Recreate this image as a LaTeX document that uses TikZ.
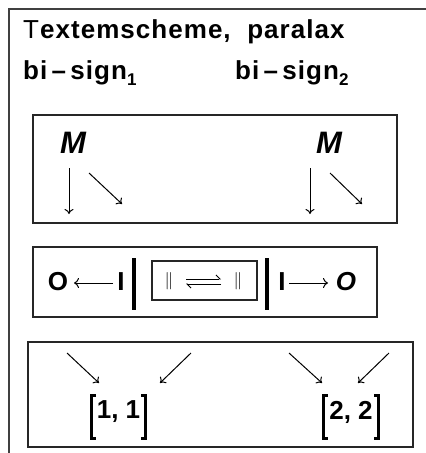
\documentclass[tikz,border=0pt]{standalone}
\usepackage{fontspec}
\setmainfont{Liberation Sans}
\usetikzlibrary{arrows.meta}
\begin{document}
\begin{tikzpicture}[x=1pt,y=-1pt,
  panel/.style={draw=black!85,line width=1.4pt,rectangle,inner sep=0pt},
  txt/.style={inner sep=0pt,anchor=base west},
  arr/.style={line width=1pt,-{To[length=5pt,width=9pt]}},
  longarr/.style={line width=1pt,-{To[length=5pt,width=10pt]}},
  thickbar/.style={line width=3.6pt},
  bracket/.style={line width=3pt},
  harp/.style={line width=0.9pt},
  bignum/.style={inner sep=0pt,font=\fontsize{26}{26}\selectfont\bfseries},
]
\useasboundingbox (0,0) rectangle (426,453);
\fill[white] (0,0) rectangle (426,453);

% outer frame, open to the right and bottom
\draw[draw=black!75,line width=2pt] (8.5,455) -- (8.5,9) -- (428,9);

% heading lines
\node[txt] (title) at (23,38) {\addfontfeature{LetterSpace=4}\fontsize{26}{26}\selectfont T\textbf{extemscheme,\ \ paralax}};
\node[txt] (bs1) at (23,79) {\addfontfeature{LetterSpace=4}\fontsize{26}{26}\selectfont\bfseries bi\,--\,sign\raisebox{-6pt}{\fontsize{17}{17}\selectfont 1}};
\node[txt] (bs2) at (235,79) {\addfontfeature{LetterSpace=4}\fontsize{26}{26}\selectfont\bfseries bi\,--\,sign\raisebox{-6pt}{\fontsize{17}{17}\selectfont 2}};

% upper panel: two M's with their arrows
\node[panel,minimum width=364pt,minimum height=108pt] (box1) at (215,169) {};
\node[txt] (m1) at (60,153) {\fontsize{31}{31}\selectfont\bfseries\itshape M};
\node[txt] (m2) at (316,153) {\fontsize{31}{31}\selectfont\bfseries\itshape M};
\coordinate (d1s) at (69,168);  \coordinate (d1e) at (69,214);
\coordinate (g1s) at (89,173);  \coordinate (g1e) at (122,204);
\coordinate (d2s) at (310,168); \coordinate (d2e) at (310,214);
\coordinate (g2s) at (330,173); \coordinate (g2e) at (362,204);
\draw[arr] (d1s) -- (d1e);
\draw[arr] (g1s) -- (g1e);
\draw[arr] (d2s) -- (d2e);
\draw[arr] (g2s) -- (g2e);

% middle panel
\node[panel,minimum width=344pt,minimum height=70pt] (box2) at (205,282) {};
\node[panel,minimum width=105pt,minimum height=39pt] (inner) at (204.5,280.5) {};
\node[inner sep=0pt] (oL) at (58,282) {\fontsize{26}{26}\selectfont\bfseries O};
\node[inner sep=0pt] (iL) at (121,282) {\fontsize{26}{26}\selectfont\bfseries I};
\node[inner sep=0pt] (iR) at (282,282) {\fontsize{26}{26}\selectfont\bfseries I};
\node[inner sep=0pt] (oR) at (346,282) {\fontsize{26}{26}\selectfont\bfseries\itshape O};
\coordinate (aLs) at (113,283); \coordinate (aLe) at (74,283);
\coordinate (aRs) at (289,283); \coordinate (aRe) at (328,283);
\draw[longarr] (aLs) -- (aLe);
\draw[longarr] (aRs) -- (aRe);
\coordinate (b1t) at (134,258); \coordinate (b1b) at (134,310);
\coordinate (b2t) at (267,258); \coordinate (b2b) at (267,310);
\draw[thickbar] (b1t) -- (b1b);
\draw[thickbar] (b2t) -- (b2b);
\node[inner sep=0pt] (p1) at (169,281) {\fontsize{19}{19}\selectfont$\|$};
\node[inner sep=0pt] (p2) at (238,281) {\fontsize{19}{19}\selectfont$\|$};
\coordinate (h1s) at (186,279); \coordinate (h1e) at (221,279);
\coordinate (h2s) at (221,284); \coordinate (h2e) at (186,284);
\draw[harp,-{Straight Barb[left,length=4pt,width=8pt]}] (h1s) -- (h1e);
\draw[harp,-{Straight Barb[left,length=4pt,width=8pt]}] (h2s) -- (h2e);

% lower panel
\node[panel,minimum width=385pt,minimum height=105pt] (box3) at (220.5,394.5) {};
\coordinate (a1s) at (67,353);  \coordinate (a1e) at (99,383);
\coordinate (a2s) at (191,353); \coordinate (a2e) at (160,383);
\coordinate (a3s) at (289,353); \coordinate (a3e) at (322,383);
\coordinate (a4s) at (389,353); \coordinate (a4e) at (358,383);
\draw[arr] (a1s) -- (a1e);
\draw[arr] (a2s) -- (a2e);
\draw[arr] (a3s) -- (a3e);
\draw[arr] (a4s) -- (a4e);
\node[bignum] (n11) at (118.5,412) {1, 1};
\node[bignum] (n22) at (351,412) {2, 2};
\draw[bracket] (96,395) -- (91.5,395) -- (91.5,438) -- (96,438);
\draw[bracket] (141,395) -- (145.5,395) -- (145.5,438) -- (141,438);
\draw[bracket] (328,395) -- (323.5,395) -- (323.5,438) -- (328,438);
\draw[bracket] (374,395) -- (378.5,395) -- (378.5,438) -- (374,438);
\end{tikzpicture}
\end{document}
